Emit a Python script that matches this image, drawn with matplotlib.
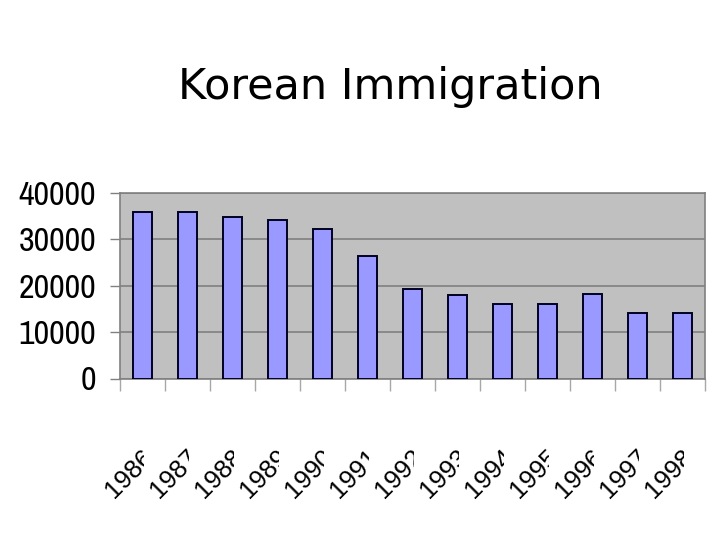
import matplotlib
matplotlib.use("Agg")
import matplotlib.pyplot as plt
from matplotlib.font_manager import FontProperties
from matplotlib.transforms import Bbox, TransformedBbox, blended_transform_factory
from matplotlib.ticker import FixedLocator, NullFormatter

years = ["1986", "1987", "1988", "1989", "1990", "1991", "1992",
         "1993", "1994", "1995", "1996", "1997", "1998"]
immigrants = [35800, 35800, 34800, 34200, 32300, 26500, 19400,
              18000, 16000, 16000, 18200, 14200, 14200]
yticks = [0, 10000, 20000, 30000, 40000]
title = "Korean Immigration"

fig = plt.figure(figsize=(7.2, 5.4), dpi=100)
ax = fig.add_axes([120/720, 1-378.5/540, 585/720, 185.5/540])
ax.set_facecolor("#C0C0C0")

x = list(range(len(years)))
ax.bar(x, immigrants, width=0.42, color="#9999FF", edgecolor="#000022",
       linewidth=1.4, zorder=3)

ax.set_xlim(-0.5, len(years) - 0.5)
ax.set_ylim(0, 40000)
ax.set_yticks(yticks)
yfont = FontProperties(family=["Archivo Narrow", "DejaVu Sans"], stretch="condensed",
                       size=24.5)
ax.set_yticklabels([str(v) for v in yticks], fontproperties=yfont)
ax.yaxis.grid(True, color="#808080", linewidth=1.2, zorder=1)
ax.tick_params(axis="y", length=7.2, width=1.0, color="#808080", pad=10)

ax.xaxis.set_major_locator(FixedLocator([]))
ax.xaxis.set_minor_locator(FixedLocator([i - 0.5 for i in range(len(years) + 1)]))
ax.xaxis.set_minor_formatter(NullFormatter())
ax.tick_params(axis="x", which="minor", length=8.6, width=1.0, color="#A8A8A8")

for s in ["left", "bottom", "top", "right"]:
    ax.spines[s].set_color("#808080")
    ax.spines[s].set_linewidth(1.2)

trans = blended_transform_factory(ax.transData, fig.transFigure)
for i, lab in enumerate(years):
    xfont = FontProperties(family="Liberation Sans", stretch="normal", size=18.5)
    t = ax.text(i - 0.633, 1 - 499/540, lab, transform=trans,
                rotation=45, rotation_mode="anchor", ha="left", va="baseline",
                fontproperties=xfont, color="black", clip_on=True)
    t.set_clip_box(TransformedBbox(Bbox([[i - 2.0, 0.0], [i + 0.03, 1.0]]), trans))

tfont = FontProperties(family="DejaVu Sans", size=31)
fig.text(390/720, 1 - 99/540, title, ha="center", va="baseline",
         fontproperties=tfont, color="black")

fig.savefig("out.png", dpi=100)
